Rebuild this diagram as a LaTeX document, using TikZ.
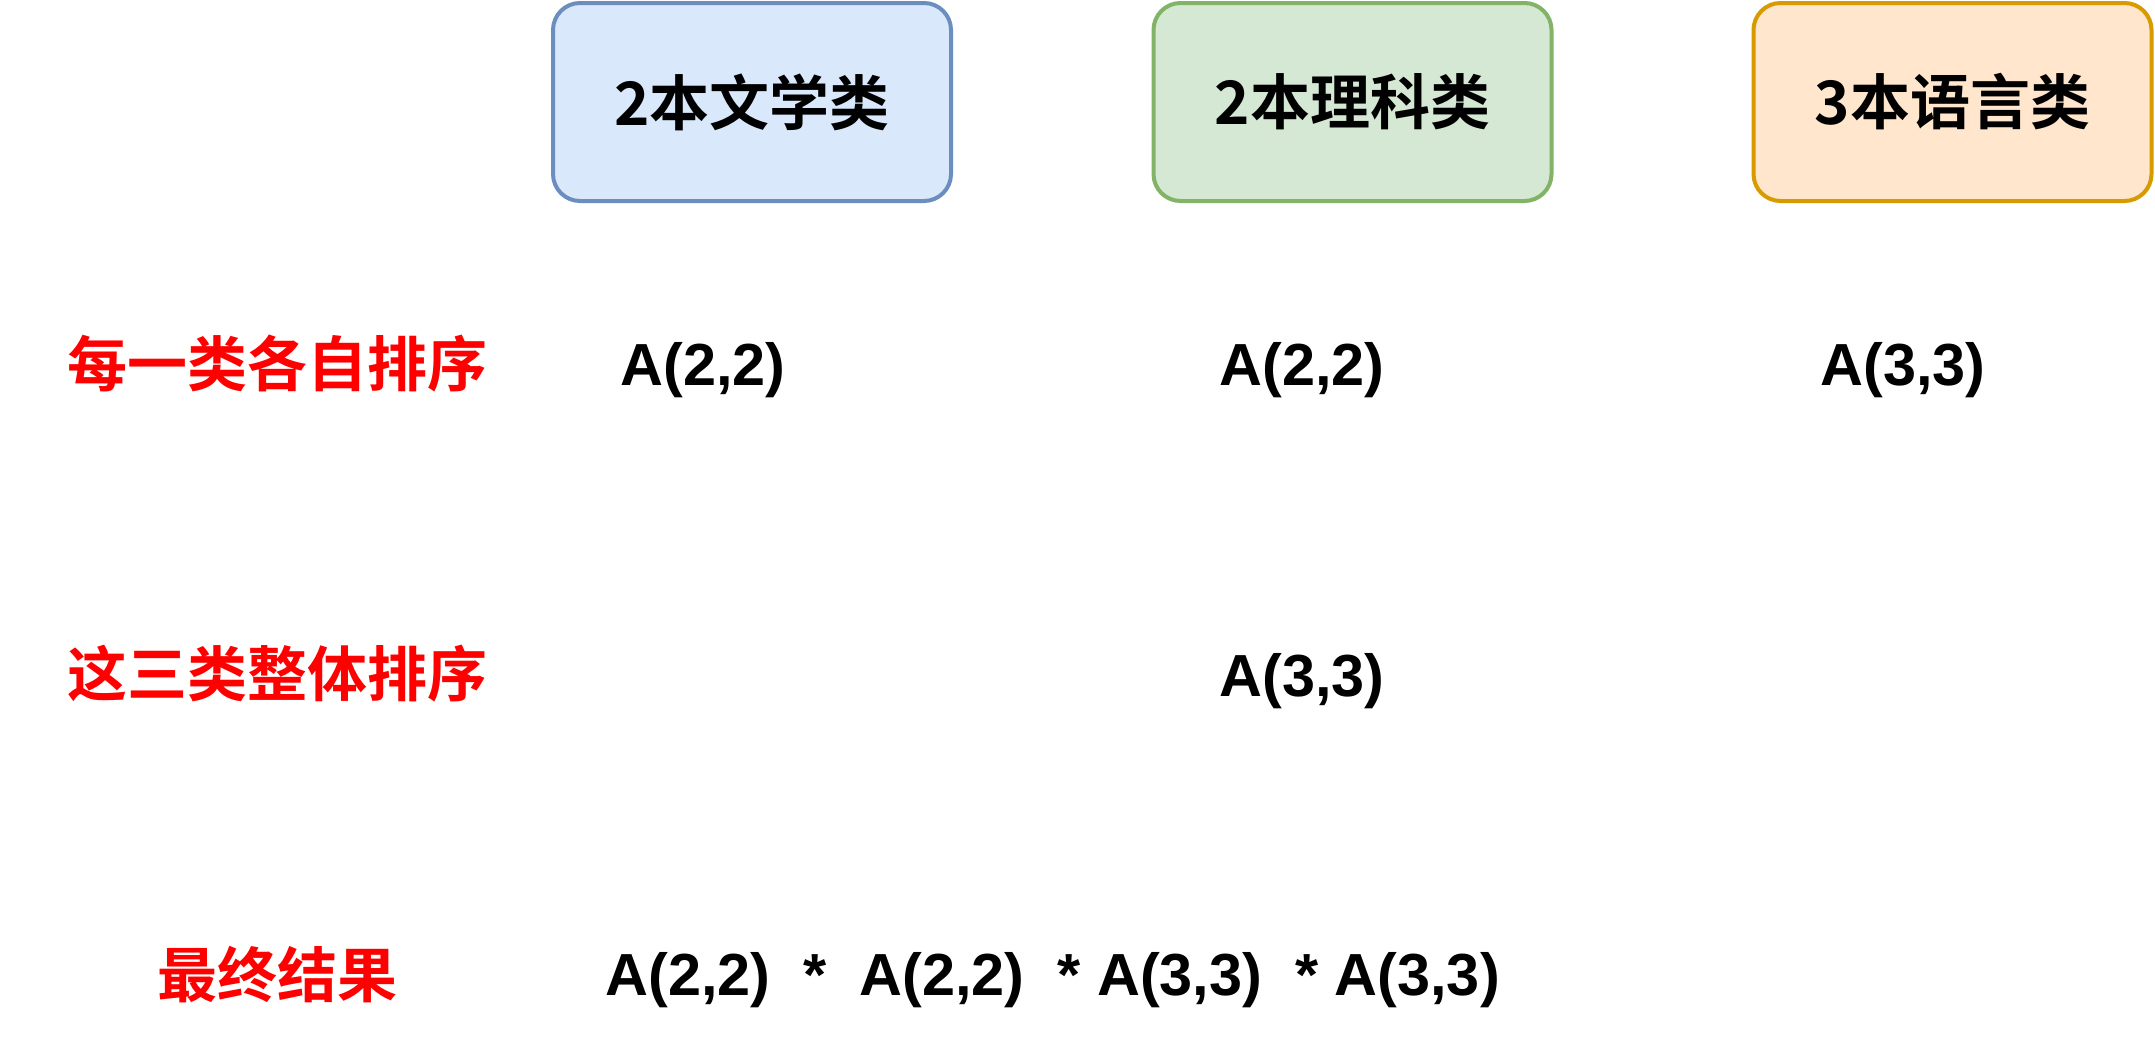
\documentclass[tikz,border=0pt]{standalone}
\usepackage{fontspec}
\setmainfont{Liberation Sans}
\newfontfamily\cjk{Noto Sans CJK SC Bold}
\definecolor{litfill}{HTML}{DAE8FC}
\definecolor{litdraw}{HTML}{6C8EBF}
\definecolor{scifill}{HTML}{D5E8D4}
\definecolor{scidraw}{HTML}{82B366}
\definecolor{langfill}{HTML}{FFE6CC}
\definecolor{langdraw}{HTML}{D79B00}
\definecolor{labred}{HTML}{FF0000}
\begin{document}
\begin{tikzpicture}[x=0.5pt,y=-0.5pt,
  catbox/.style={draw, rounded corners=13.5pt, line width=2pt,
    minimum width=199pt, minimum height=99pt, inner sep=0pt,
    font=\cjk\fontsize{30pt}{36pt}\selectfont},
  redlabel/.style={inner sep=0pt, text=labred,
    font=\cjk\fontsize{30pt}{36pt}\selectfont},
  perm/.style={inner sep=0pt, anchor=base west,
    font=\bfseries\fontsize{29.7pt}{35pt}\selectfont}]
\useasboundingbox (0,0) rectangle (2155,1055);
\fill[white] (0,0) rectangle (2155,1055);

\node[catbox, fill=litfill, draw=litdraw] (lit) at (752,102) {2本文学类};
\node[catbox, fill=scifill, draw=scidraw] (sci) at (1352.5,102) {2本理科类};
\node[catbox, fill=langfill, draw=langdraw] (lang) at (1952.5,102) {3本语言类};

\node[redlabel] (row1) at (277.5,364) {每一类各自排序};
\node[redlabel] (row2) at (277.5,674) {这三类整体排序};
\node[redlabel] (row3) at (277.5,975) {最终结果};

\node[perm] (a1) at (620,385) {A(2,2)};
\node[perm] (a2) at (1219,385) {A(2,2)};
\node[perm] (a3) at (1820,385) {A(3,3)};
\node[perm] (whole) at (1219,696) {A(3,3)};
\node[perm] (result) at (605,995) {A(2,2)~~*~~A(2,2)~~*~A(3,3)~~*~A(3,3)};
\end{tikzpicture}
\end{document}
